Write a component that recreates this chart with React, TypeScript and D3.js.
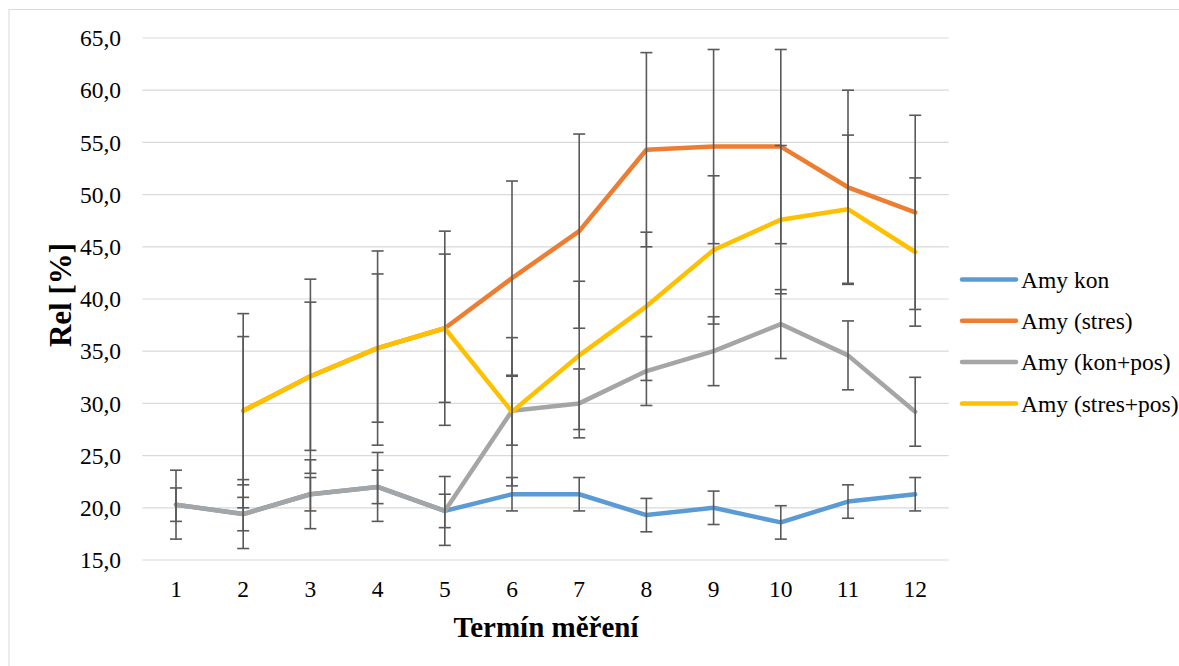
import React from 'react'
import * as d3 from 'd3'

// termíny měření
const terms = [1, 2, 3, 4, 5, 6, 7, 8, 9, 10, 11, 12]

// průměry (null = bez hodnoty)
const amyKon = [20.3, 19.4, 21.3, 22.0, 19.7, 21.3, 21.3, 19.3, 20.0, 18.6, 20.6, 21.3]
const amyStres = [null, 29.3, 32.6, 35.3, 37.2, 42.0, 46.5, 54.3, 54.6, 54.6, 50.7, 48.3]
const amyKonPos = [20.3, 19.4, 21.3, 22.0, 19.7, 29.3, 30.0, 33.1, 35.0, 37.6, 34.6, 29.2]
const amyStresPos = [null, 29.3, 32.6, 35.3, 37.2, 29.2, 34.6, 39.3, 44.7, 47.6, 48.6, 44.5]

// chybové úsečky (+/-)
const errKon = 1.6
const errStres = 9.3
const errKonPos = 3.3
const errStresPos = 7.1

const yTicks = [15, 20, 25, 30, 35, 40, 45, 50, 55, 60, 65]

const series = [
  { name: 'Amy kon', values: amyKon, err: errKon, color: '#5B9BD5' },
  { name: 'Amy (stres)', values: amyStres, err: errStres, color: '#ED7D31' },
  { name: 'Amy (kon+pos)', values: amyKonPos, err: errKonPos, color: '#A5A5A5' },
  { name: 'Amy (stres+pos)', values: amyStresPos, err: errStresPos, color: '#FFC000' },
]

const W = 1179
const H = 666
const font = '"Liberation Serif", "Times New Roman", serif'
const fs = 23.5

const czLocale = d3.formatLocale({ decimal: ',', thousands: ' ', grouping: [3], currency: ['', ' Kč'] })
const fmt = czLocale.format('.1f')

export default function App() {
  const x = d3.scalePoint<number>().domain(terms).range([142.4, 948.8]).padding(0.5)
  const y = d3.scaleLinear().domain([15, 65]).range([560, 38])

  const line = d3
    .line<number | null>()
    .defined((d) => d != null)
    .x((_, i) => x(terms[i]) as number)
    .y((d) => y(d as number))

  const cap = 6

  return (
    <div style={{ position: 'fixed', left: 0, top: 0 }}>
      <svg width={W} height={H} style={{ display: 'block', background: '#fff' }}>
        <rect x={9} y={9.5} width={W} height={H} fill="#fff" stroke="#D9D9D9" strokeWidth={1} />

        {/* mřížka */}
        {yTicks.map((t) => (
          <line key={t} x1={142.4} x2={948.8} y1={y(t)} y2={y(t)} stroke="#D9D9D9" strokeWidth={1.2} />
        ))}

        {/* popisky osy Y */}
        {yTicks.map((t) => (
          <text key={'l' + t} x={121} y={y(t)} dy="0.35em" textAnchor="end"
            fontFamily={font} fontSize={fs} fill="#000">{fmt(t)}</text>
        ))}

        {/* popisky osy X */}
        {terms.map((t) => (
          <text key={'x' + t} x={x(t)} y={597} textAnchor="middle"
            fontFamily={font} fontSize={fs} fill="#000">{t}</text>
        ))}

        {/* linie */}
        {series.map((s) => (
          <path key={s.name} d={line(s.values) || ''} fill="none" stroke={s.color}
            strokeWidth={4.5} strokeLinejoin="round" strokeLinecap="round" />
        ))}

        {/* chybové úsečky */}
        {series.map((s) =>
          s.values.map((v, i) => {
            if (v == null) return null
            const cx = x(terms[i]) as number
            const y1 = y(v + s.err)
            const y2 = y(v - s.err)
            return (
              <g key={s.name + i} stroke="#595959" strokeWidth={1.6}>
                <line x1={cx} x2={cx} y1={y1} y2={y2} />
                <line x1={cx - cap} x2={cx + cap} y1={y1} y2={y1} />
                <line x1={cx - cap} x2={cx + cap} y1={y2} y2={y2} />
              </g>
            )
          })
        )}

        {/* názvy os */}
        <text x={546} y={637} textAnchor="middle" fontFamily={font} fontSize={29}
          fontWeight="bold" fill="#000">Termín měření</text>
        <text transform="translate(71,295) rotate(-90)" textAnchor="middle" fontFamily={font}
          fontSize={31} fontWeight="bold" fill="#000">Rel [%]</text>

        {/* legenda */}
        {series.map((s, i) => {
          const ly = 279.5 + i * 41.3
          return (
            <g key={'lg' + s.name}>
              <line x1={962} x2={1016} y1={ly} y2={ly} stroke={s.color} strokeWidth={4.5} strokeLinecap="round" />
              <text x={1021} y={ly} dy="0.35em" fontFamily={font} fontSize={fs} fill="#000">{s.name}</text>
            </g>
          )
        })}
      </svg>
    </div>
  )
}
